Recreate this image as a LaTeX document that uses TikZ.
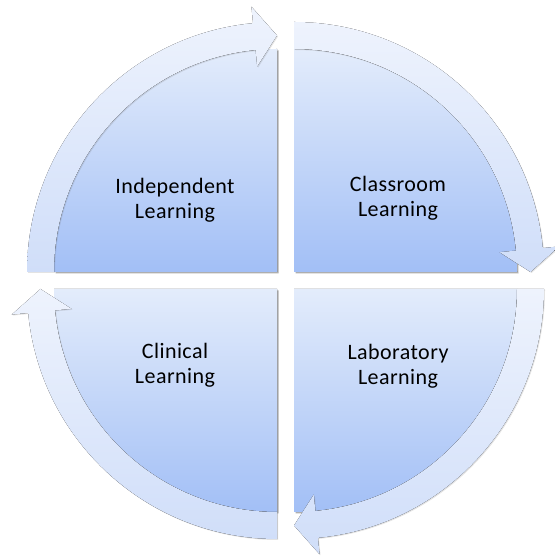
\documentclass[tikz,border=0pt]{standalone}
\usepackage{fontspec}
\setmainfont[LetterSpace=2]{Carlito}
\usetikzlibrary{shadows}
\definecolor{qtop}{HTML}{E3ECFB}
\definecolor{qbot}{HTML}{A2BFF6}
\definecolor{btop}{HTML}{EEF3FD}
\definecolor{bbot}{HTML}{D0DEF9}
\newcommand\Ra{223}
\newcommand\Rb{250}
\newcommand\Rm{236.5}
\newcommand\Rh{30}
\newcommand\angh{5.5}
\newcommand\bandarrow[2]{%
  \fill[band] ([shift={(#2:\Ra)}]#1) -- ([shift={(#2:\Rb)}]#1)
    arc[start angle=#2, end angle=#2-90+\angh, radius=\Rb]
    -- ([shift={(#2-90+\angh:\Rm+\Rh)}]#1)
    -- ([shift={(#2-90:\Rm)}]#1)
    -- ([shift={(#2-90+\angh:\Rm-\Rh)}]#1)
    -- ([shift={(#2-90+\angh:\Ra)}]#1)
    arc[start angle=#2-90+\angh, end angle=#2, radius=\Ra] -- cycle;}
\newcommand\quarter[2]{%
  \fill[quad] (#1) -- ([shift={(#2:\Ra)}]#1)
    arc[start angle=#2, end angle=#2-90, radius=\Ra] -- cycle;}
\begin{document}
\begin{tikzpicture}[x=1pt,y=1pt,
  quad/.style={top color=qtop, bottom color=qbot, draw=none,
    drop shadow={shadow xshift=1.5pt, shadow yshift=-1.5pt, opacity=0.45, fill=black!70}},
  band/.style={top color=btop, bottom color=bbot, draw=none,
    drop shadow={shadow xshift=1pt, shadow yshift=-1pt, opacity=0.18, fill=black!60}},
  lbl/.style={font=\fontsize{22}{25}\selectfont, align=center, text=black}]
\useasboundingbox (0,0) rectangle (554,559);
\coordinate (ctl) at (277,287);
\coordinate (ctr) at (294,287);
\coordinate (cbr) at (294,270);
\coordinate (cbl) at (277,270);
\quarter{ctl}{180}
\quarter{ctr}{90}
\quarter{cbr}{0}
\quarter{cbl}{-90}
\bandarrow{ctl}{180}
\bandarrow{ctr}{90}
\bandarrow{cbr}{0}
\bandarrow{cbl}{-90}
\node[lbl] (ind) at (175,359) {Independent\\Learning};
\node[lbl] (cls) at (398,361) {Classroom\\Learning};
\node[lbl] (cln) at (175,194) {Clinical\\Learning};
\node[lbl] (lab) at (398,193) {Laboratory\\Learning};
\end{tikzpicture}
\end{document}
